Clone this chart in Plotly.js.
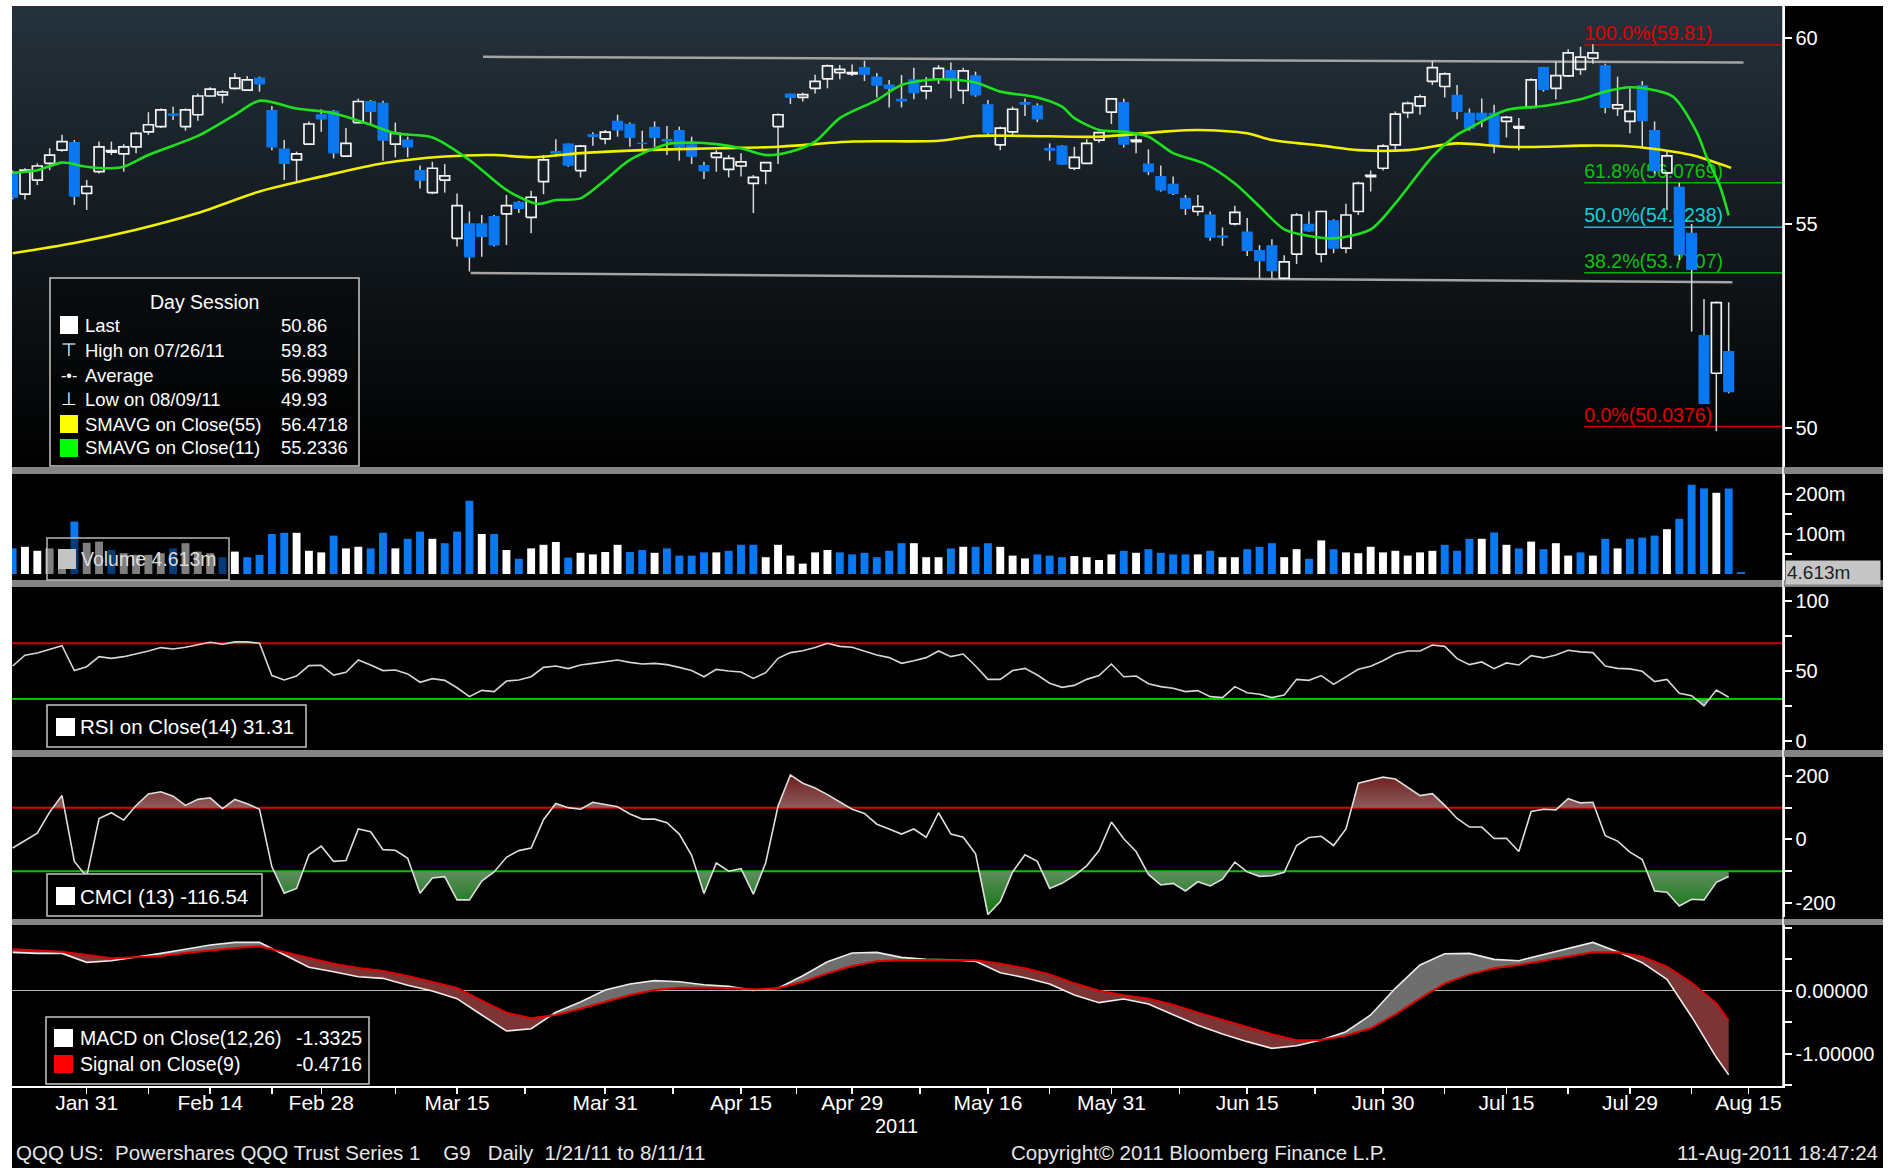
<!DOCTYPE html>
<html><head><meta charset="utf-8">
<script src="https://cdn.plot.ly/plotly-3.0.1.min.js"></script>
<style>
body{margin:0;background:#fff;width:1898px;height:1171px;overflow:hidden;position:relative}
.abs{position:absolute}
</style></head>
<body>
<div class="abs" style="left:12px;top:6px;width:1871px;height:1162px;background:#000"></div>
<div class="abs" style="left:12px;top:6px;width:1771px;height:461px;background:linear-gradient(#25323c,#000)"></div>
<div class="abs" style="left:12px;top:467px;width:1871px;height:7px;background:#858585"></div>
<div class="abs" style="left:12px;top:580px;width:1871px;height:7px;background:#858585"></div>
<div class="abs" style="left:12px;top:750px;width:1871px;height:7px;background:#858585"></div>
<div class="abs" style="left:12px;top:919px;width:1871px;height:6px;background:#858585"></div>
<div id="chart" class="abs" style="left:0;top:0;width:1898px;height:1171px"></div>
<script>
// ---------------- DATA (QQQ daily, 1/21/11 .. 8/10/11, index 0 = Jan 21) ----------------
const open = [56.32,55.78,56.15,56.59,56.94,57.14,55.80,56.37,56.89,56.84,
57.03,57.43,57.57,57.91,57.57,57.89,58.40,58.43,58.61,58.56,
58.89,58.00,56.97,56.68,57.10,57.89,57.98,56.78,57.68,58.25,
58.20,57.10,57.21,56.40,55.82,56.15,54.64,55.01,55.01,55.20,
55.27,55.57,55.18,56.11,56.90,57.10,56.40,57.35,57.24,57.71,
57.63,57.14,57.55,57.22,57.46,57.08,56.53,56.75,56.43,56.52,
56.06,56.39,57.57,58.45,58.36,58.61,58.87,59.04,59.01,59.18,
58.92,58.70,58.31,58.84,58.54,58.86,59.10,58.55,58.95,58.16,
57.08,57.43,58.22,58.13,56.98,57.05,56.46,56.59,57.21,57.96,
58.22,57.17,56.57,56.24,56.04,55.67,55.33,55.24,54.70,55.01,
54.80,54.33,54.45,53.63,54.24,55.00,54.24,55.09,54.39,55.33,
56.24,56.46,57.08,57.95,58.13,58.80,58.66,58.42,57.93,57.93,
57.93,57.71,57.53,58.09,59.18,58.61,58.95,59.13,59.44,59.23,
58.06,57.71,58.68,57.46,56.34,55.96,54.77,52.21,51.30,51.82];
const high = [56.40,56.46,56.59,56.99,57.35,57.21,56.15,57.17,57.17,57.10,
57.43,57.96,58.06,58.11,58.06,58.47,58.64,58.56,59.03,58.95,
58.93,58.13,57.21,56.90,57.71,58.04,58.02,57.53,58.33,58.29,
58.27,57.68,57.30,56.53,56.63,56.57,55.80,55.33,55.24,55.24,
55.76,55.60,55.87,56.81,57.23,57.12,57.08,57.42,57.48,57.89,
57.68,57.46,57.71,57.59,57.57,57.30,56.63,56.94,56.81,56.86,
56.28,56.62,57.93,58.46,58.49,58.98,59.27,59.25,59.27,59.37,
59.03,58.84,58.98,59.18,58.92,59.25,59.32,59.18,59.07,58.29,
57.57,58.11,58.33,58.20,57.12,57.07,57.03,57.23,57.43,58.33,
58.33,57.39,56.96,56.53,56.24,55.76,55.76,55.33,54.92,55.48,
55.16,54.47,54.62,54.21,55.29,55.33,55.35,55.13,55.53,56.11,
56.40,57.10,57.98,58.25,58.44,59.37,59.05,58.70,58.06,58.33,
58.16,57.86,57.80,58.89,59.20,59.35,59.69,59.76,59.83,59.29,
58.93,58.61,58.81,57.71,56.90,56.08,55.01,53.11,53.05,53.03];
const low = [55.65,55.64,56.02,56.41,56.90,55.50,55.37,56.32,56.81,56.37,
56.86,57.35,57.53,57.75,57.46,57.73,58.38,58.20,58.58,58.55,
58.52,56.94,56.15,56.11,57.08,57.43,56.72,56.77,57.66,57.62,
56.66,56.75,56.75,55.93,55.78,55.82,54.43,53.80,54.17,54.43,
54.47,55.29,54.77,55.78,56.77,56.50,56.22,57.06,57.10,57.30,
57.03,56.97,57.03,56.81,56.66,56.57,56.18,56.37,56.22,56.24,
55.29,56.04,56.57,58.18,58.25,58.47,58.61,58.86,58.95,58.81,
58.36,58.09,58.09,58.31,58.31,58.73,58.33,58.18,58.38,57.35,
56.94,57.35,57.86,57.69,56.66,56.55,56.41,56.57,57.14,57.64,
57.01,56.86,56.28,55.85,55.76,55.24,55.22,54.58,54.45,54.97,
54.19,53.63,53.63,53.60,53.99,54.81,54.03,54.26,54.26,55.24,
55.85,56.40,56.90,57.80,57.89,58.70,58.36,57.77,57.46,57.55,
56.86,57.28,56.94,58.06,58.52,58.31,58.92,58.98,59.29,57.93,
57.86,57.39,57.03,56.32,55.36,54.09,52.31,50.57,49.93,50.82];
const close = [55.70,56.41,56.52,56.81,57.17,55.73,55.98,57.03,56.93,57.03,
57.39,57.62,58.02,57.88,58.02,58.40,58.59,58.51,58.89,58.84,
58.73,57.03,56.59,56.84,57.64,57.78,56.87,57.12,58.25,57.98,
57.21,57.39,57.03,56.15,56.46,56.26,55.48,54.17,54.69,54.47,
55.48,55.41,55.70,56.68,56.86,56.54,57.05,57.31,57.42,57.48,
57.28,57.12,57.28,57.19,57.03,56.78,56.39,56.86,56.72,56.63,
56.22,56.61,57.89,58.36,58.44,58.80,59.23,59.13,59.04,59.00,
58.70,58.61,58.27,58.49,58.66,59.16,58.86,59.09,58.43,57.41,
57.53,58.04,58.18,57.78,56.94,56.57,56.75,57.12,57.41,58.32,
57.10,57.21,56.37,55.89,55.80,55.41,55.46,54.67,54.67,55.31,
54.33,54.07,53.82,54.04,55.24,54.83,55.33,54.39,55.24,56.06,
56.27,57.05,57.91,58.20,58.38,59.18,59.01,57.98,57.53,57.75,
57.10,57.82,57.57,58.84,58.58,58.96,59.59,59.47,59.59,58.09,
58.16,57.98,57.73,56.40,56.79,54.24,53.85,50.58,53.02,50.86];
// volume in millions (last entry = Aug 11 partial, 4.613m)
const volume = [64,68,58,64,60,131,78,81,60,52,48,48,52,64,77,56,52,42,56,42,
48,100,103,103,58,54,96,64,68,64,103,64,88,106,88,77,106,183,100,100,
60,38,64,73,80,41,53,49,55,73,55,60,53,64,46,46,54,54,58,73,
73,42,73,46,26,54,60,54,49,53,42,58,77,77,42,42,64,68,68,77,
68,46,39,49,46,42,45,42,35,49,58,53,62,53,49,49,49,58,42,42,
62,68,77,42,62,38,84,62,54,52,68,54,58,46,54,58,73,58,88,88,
104,73,64,81,62,77,46,54,46,88,64,88,91,96,112,138,223,214,203,214,4.613];
const sma55X = [0,5,10,15,20,25,30,35,39,42,46,51,57,62,68,75,78,82,88,93,96,100,102,106,109,113,117,121,124,127,130.5,133,136,139.2];
const sma55 = [54.26,54.52,54.86,55.29,55.85,56.24,56.59,56.77,56.81,56.75,56.86,56.94,56.99,57.03,57.17,57.19,57.32,57.32,57.30,57.43,57.48,57.39,57.21,57.06,56.94,56.94,57.12,57.03,57.03,57.06,57.05,56.97,56.81,56.47];
const sma11X = [0,2,4,6,8,9,11,15,18,20,23,26,29,31,34,37,40,42.5,44,46,48,50,53,55,57,59,61,63,65,67,70,72,75,78,80,83,85,86,88,90,92,94,96.5,99,101,103,105,107,110,112,115,117,118,121,124,127,129,131,133,134.5,136.4,137.2,138.3,139];
const sma11 = [56.34,56.41,56.61,56.50,56.46,56.50,56.81,57.32,57.89,58.27,58.06,57.93,57.62,57.39,57.28,56.68,55.89,55.53,55.63,55.67,56.15,56.68,57.10,57.14,57.10,56.99,56.81,56.90,57.17,57.80,58.29,58.70,58.86,58.77,58.52,58.36,58.11,57.80,57.48,57.43,57.30,56.86,56.59,56.06,55.46,54.87,54.70,54.64,54.87,55.54,56.77,57.35,57.53,58.02,58.13,58.31,58.52,58.64,58.56,58.38,57.43,56.77,55.98,55.23];
const rsi = [53.7,61.4,63.0,65.7,68.3,50.4,53.2,60.4,59.2,60.4,62.3,64.5,66.9,65.9,67.1,68.8,70.7,69.3,71.0,71.0,
70.0,46.8,43.7,46.5,54.0,54.2,47.2,49.2,58.0,54.4,50.4,50.8,48.0,42.0,44.6,43.4,38.1,31.7,36.2,35.3,
42.9,43.7,46.0,52.7,53.7,51.8,54.4,55.6,56.6,58.0,56.3,55.1,55.6,54.7,52.7,50.4,46.0,51.3,50.1,49.4,
44.8,48.9,59.2,63.3,64.7,66.9,70.0,67.8,67.1,64.5,61.6,59.7,55.6,57.5,59.7,64.5,60.4,62.3,53.7,44.1,
44.1,50.4,52.0,47.2,41.3,38.4,39.8,44.1,46.8,55.1,46.0,46.5,41.0,38.9,37.7,35.3,36.0,31.7,31.0,38.9,
34.5,33.4,31.0,32.9,44.1,43.4,46.8,40.5,45.6,51.3,53.5,57.5,62.3,64.5,64.5,68.8,67.8,59.0,54.7,56.6,
51.8,55.9,54.4,61.1,59.5,61.6,65.0,63.8,63.3,53.7,52.0,51.6,49.9,42.5,44.1,34.1,32.4,25.0,36.5,31.31];
const cmci = [-27,-4,20,86,138,-69,-117,66,84,61,107,143,150,136,107,126,131,97,126,112,
95,-86,-169,-154,-48,-21,-69,-66,33,24,-32,-34,-59,-169,-121,-117,-190,-190,-131,-102,
-56,-35,-27,62,113,100,95,117,110,103,80,64,64,53,17,-50,-170,-74,-100,-92,
-172,-73,105,203,177,162,141,119,95,82,48,33,17,33,7,84,17,7,-45,-236,
-195,-102,-48,-69,-154,-138,-114,-83,-35,55,2,-38,-110,-143,-138,-162,-133,-146,-125,-71,
-102,-116,-114,-103,-19,6,10,-19,33,177,186,196,190,165,138,144,107,66,39,39,
3,4,-38,88,95,93,128,115,117,12,-5,-40,-63,-162,-166,-209,-188,-190,-135,-116.54];
const macdX = [0,2,4,6,8,10,12,14,16,18,20,22,24,26,28,30,32,34,36,38,40,42,44,46,48,50,52,54,56,58,60,62,64,66,68,70,72,74,76,78,80,82,84,86,88,90,92,94,96,98,100,102,104,106,108,110,112,114,116,118,120,122,124,126,128,130,132,134,136,138,139];
const macd = [0.607,0.591,0.591,0.449,0.475,0.528,0.591,0.655,0.723,0.765,0.765,0.570,0.370,0.301,0.222,0.196,0.085,-0.005,-0.126,-0.384,-0.637,-0.601,-0.342,-0.179,0.011,0.106,0.159,0.143,0.095,0.069,0.005,0.038,0.238,0.459,0.597,0.607,0.528,0.496,0.491,0.465,0.285,0.206,0.106,-0.068,-0.189,-0.131,-0.210,-0.379,-0.548,-0.685,-0.806,-0.912,-0.870,-0.780,-0.648,-0.384,0.038,0.407,0.586,0.591,0.496,0.475,0.570,0.665,0.765,0.618,0.444,0.180,-0.411,-1.054,-1.3325];
const signal = [0.655,0.634,0.618,0.565,0.512,0.528,0.549,0.597,0.639,0.676,0.702,0.607,0.523,0.428,0.359,0.312,0.233,0.132,0.043,-0.157,-0.347,-0.437,-0.384,-0.284,-0.174,-0.069,0.011,0.048,0.048,0.043,0.022,0.038,0.143,0.275,0.391,0.465,0.486,0.486,0.486,0.481,0.428,0.354,0.259,0.117,0.001,-0.073,-0.126,-0.221,-0.347,-0.463,-0.569,-0.690,-0.785,-0.780,-0.711,-0.595,-0.374,-0.121,0.117,0.259,0.354,0.407,0.475,0.544,0.607,0.607,0.539,0.380,0.127,-0.200,-0.4716];
const fibLevels = [59.81, 56.0769, 54.9238, 53.7707, 50.0376];
const fibLabels = ['100.0%(59.81)', '61.8%(56.0769)', '50.0%(54.9238)', '38.2%(53.7707)', '0.0%(50.0376)'];
const fibStartX = 127.3;
const trendUpperX = [38.1, 140.2], trendUpperY = [59.48, 59.32];
const trendLowerX = [37.1, 139.3], trendLowerY = [53.76, 53.53];
const tickPos = [6,16,25,36,48,59,68,79,89,100,111,121,131,140.6];
const tickLabels = ['Jan 31','Feb 14','Feb 28','Mar 15','Mar 31','Apr 15','Apr 29','May 16','May 31','Jun 15','Jun 30','Jul 15','Jul 29','Aug 15'];
const midTickPos = [11,21,31,41.5,53.5,63.5,73.5,84,94.5,105.5,116,126,136];
const sessionLabels = ['Last','High on 07/26/11','Average','Low on 08/09/11','SMAVG on Close(55)','SMAVG on Close(11)'];
const sessionValues = ['50.86','59.83','56.9989','49.93','56.4718','55.2336'];

// ---------------- RENDERING ----------------
const F = 'Liberation Sans, Arial, sans-serif';
const BLUE = '#0a78f0';
const XMAX = 143.4;
const PX = p => (p - 12) / 1771;
const PY = p => (1086 - p) / 1080;
const idx = close.map((_, i) => i);

function splitFill(x, a, b) {
  const X = [], A = [], B = [];
  for (let k = 0; k < x.length; k++) {
    if (k > 0) {
      const d0 = a[k-1] - b[k-1], d1 = a[k] - b[k];
      if (d0 * d1 < 0) {
        const t = d0 / (d0 - d1);
        X.push(x[k-1] + t * (x[k] - x[k-1]));
        const v = b[k-1] + t * (b[k] - b[k-1]);
        A.push(v); B.push(v);
      }
    }
    X.push(x[k]); A.push(a[k]); B.push(b[k]);
  }
  return {X, A, B};
}
function band(x, a, b, yaxis, above, color, grad) {
  const s = splitFill(x, a, b);
  const clip = s.A.map((v, k) => above ? Math.max(v, s.B[k]) : Math.min(v, s.B[k]));
  const base = {x: s.X, y: s.B, yaxis, mode: 'lines', line: {width: 0, color: 'rgba(0,0,0,0)'}, hoverinfo: 'skip'};
  const f = {x: s.X, y: clip, yaxis, mode: 'lines', line: {width: 0, color: 'rgba(0,0,0,0)'}, fill: 'tonexty', fillcolor: color, hoverinfo: 'skip'};
  if (grad) f.fillgradient = grad;
  return [base, f];
}

// candles
const W = 0.4;
const upX = [], upY = [], dnX = [], dnY = [], wkX = [], wkY = [];
idx.forEach(i => {
  const o = open[i], c = close[i], h = high[i], l = low[i];
  const top = Math.max(o, c), bot = Math.min(o, c);
  wkX.push(i, i, null, i, i, null); wkY.push(l, bot, null, top, h, null);
  const px = [i-W, i+W, i+W, i-W, i-W, null], py = [bot, bot, top, top, bot, null];
  if (c >= o) { upX.push(...px); upY.push(...py); } else { dnX.push(...px); dnY.push(...py); }
});

const traces = [];
traces.push({x: trendUpperX, y: trendUpperY, mode: 'lines', line: {color: '#a4a4a4', width: 2.5}});
traces.push({x: trendLowerX, y: trendLowerY, mode: 'lines', line: {color: '#a4a4a4', width: 2.5}});
const fibLine = ['#d00000', '#00b400', '#00c8d0', '#00b400', '#d00000'];
const fibText = ['#e00000', '#10c010', '#10d0d8', '#10c010', '#e00000'];
fibLevels.forEach((v, k) => traces.push({x: [fibStartX, XMAX], y: [v, v], mode: 'lines', line: {color: fibLine[k], width: 1.5}}));
traces.push({x: fibLevels.map(() => fibStartX), y: fibLevels, mode: 'text', text: fibLabels,
  textposition: 'top right', textfont: {family: F, size: 19.5, color: fibText}});
traces.push({x: wkX, y: wkY, mode: 'lines', line: {color: '#d8d8d8', width: 1.5}, connectgaps: false});
traces.push({x: upX, y: upY, mode: 'lines', line: {color: '#f4f4f4', width: 1.7}, connectgaps: false});
traces.push({x: dnX, y: dnY, mode: 'lines', fill: 'toself', fillcolor: BLUE, line: {color: BLUE, width: 1.2}, connectgaps: false});
traces.push({x: sma55X, y: sma55, mode: 'lines', line: {color: '#f0f000', width: 2.6, shape: 'spline', smoothing: 0.8}});
traces.push({x: sma11X, y: sma11, mode: 'lines', line: {color: '#1ee01e', width: 2.6, shape: 'spline', smoothing: 0.8}});

const volColor = volume.map((_, i) => (i > 0 && close[i] != null && close[i-1] != null && close[i] >= close[i-1]) ? '#ffffff' : BLUE);
traces.push({type: 'bar', x: volume.map((_, i) => i), y: volume, yaxis: 'y2', width: 0.64, marker: {color: volColor, line: {width: 0}}});

traces.push(...band(idx, rsi, rsi.map(() => 70), 'y3', true, '#a04848'));
traces.push(...band(idx, rsi, rsi.map(() => 30), 'y3', false, '#5e9a5e'));
traces.push({x: idx, y: rsi, yaxis: 'y3', mode: 'lines', line: {color: '#d6d6d6', width: 1.6}});

traces.push(...band(idx, cmci, cmci.map(() => 100), 'y4', true, '#7a3030',
  {type: 'vertical', colorscale: [[0, '#8e5c5c'], [1, '#6c1818']], start: 100, stop: 210}));
traces.push(...band(idx, cmci, cmci.map(() => -100), 'y4', false, '#2a7a2a',
  {type: 'vertical', colorscale: [[0, '#127612'], [1, '#5e8e5e']], start: -230, stop: -100}));
traces.push({x: idx, y: cmci, yaxis: 'y4', mode: 'lines', line: {color: '#dedede', width: 1.6}});

traces.push(...band(macdX, macd, signal, 'y5', true, '#6e6e6e'));
traces.push(...band(macdX, macd, signal, 'y5', false, '#7c3434'));
traces.push({x: macdX, y: macd, yaxis: 'y5', mode: 'lines', line: {color: '#ececec', width: 1.6}});
traces.push({x: macdX, y: signal, yaxis: 'y5', mode: 'lines', line: {color: '#e00000', width: 2}});

traces.forEach(t => { if (!t.xaxis) t.xaxis = 'x'; t.hoverinfo = 'skip'; t.showlegend = false; });

// ---------------- LAYOUT ----------------
const yCommon = {side: 'right', anchor: 'x', showgrid: false, zeroline: false, showline: true, linecolor: '#fff', linewidth: 1.5,
  ticks: 'outside', ticklen: 7, tickwidth: 2, tickcolor: '#fff', tickfont: {family: F, size: 20, color: '#fff'}, fixedrange: true};

const shapes = [];
const annotations = [];
function rect(x0, y0, x1, y1, fill, line) {
  shapes.push({type: 'rect', xref: 'paper', yref: 'paper', x0: PX(x0), x1: PX(x1), y0: PY(y1), y1: PY(y0),
    fillcolor: fill, line: line ? {color: line, width: 1.5} : {width: 0}, layer: 'above'});
}
function txt(px, py, text, size, color, anchor) {
  annotations.push({xref: 'paper', yref: 'paper', x: PX(px), y: PY(py), text, showarrow: false,
    xanchor: anchor || 'left', yanchor: 'middle', font: {family: F, size: size || 18, color: color || '#fff'}});
}
function hline(yref, v, color) {
  shapes.push({type: 'line', xref: 'paper', x0: 0, x1: 1, yref, y0: v, y1: v, line: {color, width: 2}, layer: 'below'});
}
hline('y3', 70, '#d40000'); hline('y3', 30, '#00c400');
hline('y4', 100, '#e00000'); hline('y4', -100, '#00c400');
shapes.push({type: 'line', xref: 'paper', yref: 'paper', x0: 1, x1: 1, y0: 0, y1: 1, line: {color: '#fff', width: 1.5}, layer: 'above'});

rect(50, 278, 359, 466, 'rgba(0,0,0,0.35)', '#c8c8c8');
txt(204, 302, 'Day Session', 19.5, '#fff', 'center');
const rowY = [325, 350, 375, 399, 424, 448];
sessionLabels.forEach((s, k) => { txt(83, rowY[k], s, 18.5); txt(279, rowY[k], sessionValues[k], 18.5); });
rect(60, 316, 78, 334, '#ffffff');
txt(69, 350, '⊤', 18, '#fff', 'center');
txt(69, 375, '-•-', 16, '#fff', 'center');
txt(69, 399, '⊥', 18, '#fff', 'center');
rect(60, 415, 78, 433, '#ffff00');
rect(60, 439, 78, 457, '#00ff00');

rect(47, 538, 229, 580, 'rgba(0,0,0,0.5)', '#b8b8b8');
rect(58, 549, 76, 569, '#c4c4c4');
txt(79, 559, 'Volume 4.613m', 19.5, '#dcdcdc');
annotations.push({xref: 'paper', yref: 'y2', x: PX(1785), y: 4.613, text: '4.613m', showarrow: false, xanchor: 'left', yanchor: 'middle',
  bgcolor: '#c6c6c6', font: {family: F, size: 19, color: '#222'}, width: 92, align: 'left', borderpad: 1});

rect(47, 705, 306, 747, '#000', '#c8c8c8');
rect(56, 718, 75, 736, '#ffffff');
txt(78, 727, 'RSI on Close(14) 31.31', 20.5);
rect(47, 874, 262, 916, '#000', '#c8c8c8');
rect(56, 887, 75, 905, '#ffffff');
txt(78, 896, 'CMCI (13) -116.54', 20.5);
rect(46, 1017, 369, 1084, '#000', '#c8c8c8');
rect(54, 1029, 73, 1047, '#ffffff');
rect(54, 1055, 73, 1073, '#ff0000');
txt(78, 1038, 'MACD on Close(12,26)', 19.5); txt(364, 1038, '-1.3325', 19.5, '#fff', 'right');
txt(78, 1064, 'Signal on Close(9)', 19.5); txt(364, 1064, '-0.4716', 19.5, '#fff', 'right');

txt(896, 1126, '2011', 20, '#fff', 'center');
const NB = '\u00a0';
txt(14, 1152, 'QQQ US:' + NB + NB + 'Powershares QQQ Trust Series 1' + NB + NB + NB + NB + 'G9' + NB + NB + NB + 'Daily' + NB + NB + '1/21/11 to 8/11/11', 20.5, '#e6e6e6');
txt(1199, 1152, 'Copyright© 2011 Bloomberg Finance L.P.', 20.5, '#e6e6e6', 'center');
txt(1880, 1152, '11-Aug-2011 18:47:24', 20.5, '#e6e6e6', 'right');

const layout = {
  width: 1898, height: 1171,
  margin: {l: 12, r: 115, t: 6, b: 85, pad: 0, autoexpand: false},
  paper_bgcolor: 'rgba(0,0,0,0)', plot_bgcolor: 'rgba(0,0,0,0)',
  showlegend: false, hovermode: false, dragmode: false,
  font: {family: F, color: '#fff', size: 20},
  xaxis: {range: [-0.05, XMAX], anchor: 'y5', showgrid: false, zeroline: false, showline: true, linecolor: '#fff', linewidth: 1.5,
    ticks: 'outside', ticklen: 6, tickwidth: 1.5, tickcolor: '#fff', ticklabelstandoff: -9,
    tickmode: 'array', tickvals: tickPos.concat(midTickPos), ticktext: tickLabels.concat(midTickPos.map(() => '')),
    tickfont: {family: F, size: 21, color: '#fff'}, fixedrange: true},
  yaxis: Object.assign({}, yCommon, {domain: [0.57315, 1], type: 'log', range: [1.69108, 1.78469],
    tickmode: 'array', tickvals: [50, 55, 60], ticktext: ['50', '55', '60']}),
  yaxis2: Object.assign({}, yCommon, {domain: [0.46852, 0.56667], range: [-15, 250],
    tickmode: 'array', tickvals: [50, 100, 150, 200], ticktext: ['', '100m', '', '200m']}),
  yaxis3: Object.assign({}, yCommon, {domain: [0.31111, 0.46204], range: [-6.6, 110.4],
    tickmode: 'array', tickvals: [0, 25, 50, 75, 100], ticktext: ['0', '', '50', '', '100']}),
  yaxis4: Object.assign({}, yCommon, {domain: [0.15648, 0.30463], range: [-243.8, 259.3],
    tickmode: 'array', tickvals: [-200, -100, 0, 100, 200], ticktext: ['-200', '', '0', '', '200']}),
  yaxis5: Object.assign({}, yCommon, {domain: [0, 0.14907], range: [-1.508, 1.04],
    zeroline: true, zerolinecolor: '#b4b4b4', zerolinewidth: 1.5,
    tickmode: 'array', tickvals: [-1.5, -1, -0.5, 0, 0.5, 1], ticktext: ['', '-1.00000', '', '0.00000', '', '']}),
  shapes, annotations
};

Plotly.newPlot('chart', traces, layout, {displayModeBar: false, staticPlot: true});
</script>
</body></html>
